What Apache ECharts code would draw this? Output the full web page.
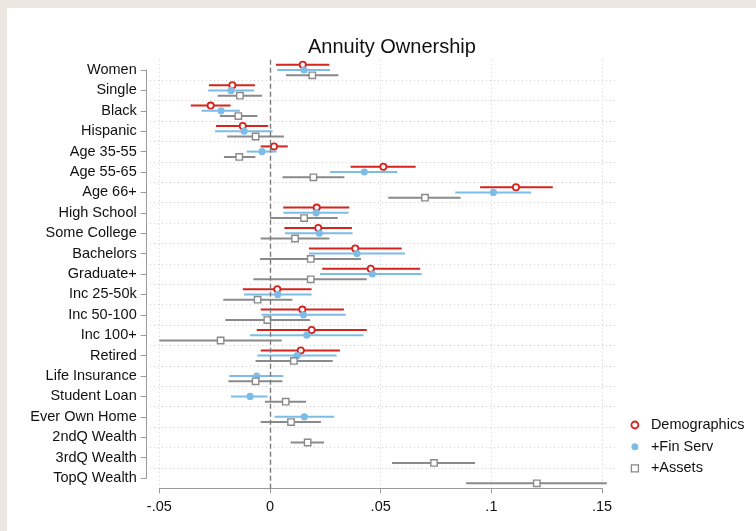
<!DOCTYPE html>
<html>
<head>
<meta charset="utf-8">
<script src="https://cdn.jsdelivr.net/npm/echarts@6/dist/echarts.min.js"></script>
<style>
html,body{margin:0;padding:0;background:#ece7e0;}
#paper{position:absolute;left:7px;top:8px;width:749px;height:523px;background:#fff;}
#c{position:absolute;left:0;top:0;width:756px;height:531px;}
</style>
</head>
<body>
<div id="paper"></div>
<div id="c"></div>
<script>
const categories = ['Women','Single','Black','Hispanic','Age 35-55','Age 55-65','Age 66+','High School','Some College','Bachelors','Graduate+','Inc 25-50k','Inc 50-100','Inc 100+','Retired','Life Insurance','Student Loan','Ever Own Home','2ndQ Wealth','3rdQ Wealth','TopQ Wealth'];
const xTickLabels = ['-.05','0','.05','.1','.15'];
const seriesNames = ['Demographics','+Fin Serv','+Assets'];

// Demographics
const demoEst = [0.0148,-0.0170,-0.0268,-0.0123,0.0018,0.0512,0.1111,0.0211,0.0218,0.0385,0.0455,0.0033,0.0146,0.0188,0.0139,null,null,null,null,null,null];
const demoLo  = [0.0027,-0.0276,-0.0358,-0.0244,-0.0042,0.0364,0.0949,0.0060,0.0065,0.0176,0.0236,-0.0123,-0.0042,-0.0060,-0.0042,null,null,null,null,null,null];
const demoHi  = [0.0268,-0.0068,-0.0178,-0.0008,0.0080,0.0658,0.1277,0.0358,0.0370,0.0595,0.0678,0.0188,0.0334,0.0437,0.0316,null,null,null,null,null,null];
// +Fin Serv
const finEst = [0.0154,-0.0176,-0.0221,-0.0117,-0.0036,0.0426,0.1009,0.0208,0.0223,0.0393,0.0462,0.0035,0.0151,0.0166,0.0123,-0.0060,-0.0090,0.0155,null,null,null];
const finLo  = [0.0033,-0.0279,-0.0309,-0.0248,-0.0105,0.0271,0.0837,0.0060,0.0068,0.0176,0.0226,-0.0117,-0.0038,-0.0090,-0.0057,-0.0184,-0.0176,0.0020,null,null,null];
const finHi  = [0.0271,-0.0072,-0.0136,0.0012,0.0030,0.0575,0.1179,0.0355,0.0373,0.0610,0.0685,0.0188,0.0342,0.0422,0.0301,0.0060,-0.0011,0.0290,null,null,null];
// +Assets
const assetEst = [0.0191,-0.0136,-0.0143,-0.0065,-0.0139,0.0196,0.0700,0.0154,0.0113,0.0184,0.0184,-0.0056,-0.0012,-0.0223,0.0108,-0.0065,0.0071,0.0095,0.0170,0.0741,0.1205];
const assetLo  = [0.0072,-0.0236,-0.0226,-0.0193,-0.0208,0.0056,0.0534,0.0000,-0.0042,-0.0045,-0.0075,-0.0211,-0.0202,-0.0500,-0.0065,-0.0188,-0.0023,-0.0042,0.0093,0.0551,0.0885];
const assetHi  = [0.0309,-0.0036,-0.0057,0.0063,-0.0066,0.0336,0.0861,0.0306,0.0268,0.0411,0.0437,0.0101,0.0181,0.0053,0.0283,0.0056,0.0163,0.0230,0.0244,0.0926,0.1521];

const RED = '#d5231d', BLUE = '#7dbce6', GRAY = '#8a8a8a';
const FONT = "'Liberation Sans', Arial, Helvetica, sans-serif";

function build(est, lo, hi) {
  const out = [];
  categories.forEach((c, i) => {
    if (est[i] !== null) out.push([i, est[i], lo[i], hi[i]]);
  });
  return out;
}

function makeRender(offset, color, marker) {
  return function (params, api) {
    const i = api.value(0);
    const c = api.coord([api.value(1), i]);
    const a = api.coord([api.value(2), i]);
    const b = api.coord([api.value(3), i]);
    const y = c[1] + offset;
    const children = [{
      type: 'line',
      shape: {x1: a[0], y1: y, x2: b[0], y2: y},
      style: {stroke: color, lineWidth: 2}
    }];
    if (marker === 'ocircle') {
      children.push({type: 'circle', shape: {cx: c[0], cy: y, r: 3.1}, style: {fill: '#fff', stroke: color, lineWidth: 1.8}});
    } else if (marker === 'circle') {
      children.push({type: 'circle', shape: {cx: c[0], cy: y, r: 3.6}, style: {fill: color}});
    } else {
      children.push({type: 'rect', shape: {x: c[0] - 3.2, y: y - 3.2, width: 6.4, height: 6.4}, style: {fill: '#fff', stroke: color, lineWidth: 1.4}});
    }
    return {type: 'group', children: children};
  };
}

const chart = echarts.init(document.getElementById('c'), null, {renderer: 'canvas'});

const option = {
  backgroundColor: 'transparent',
  animation: false,
  title: {
    text: 'Annuity Ownership',
    left: 308, top: 37,
    padding: 0,
    textStyle: {fontFamily: FONT, fontSize: 20, fontWeight: 'normal', color: '#111'}
  },
  legend: {
    orient: 'vertical',
    left: 630.5, top: 417,
    padding: 0,
    itemWidth: 7, itemHeight: 7,
    itemGap: 5.7,
    textStyle: {fontFamily: FONT, fontSize: 14.5, color: '#111', lineHeight: 16, padding: [0, 0, 0, 7.5]},
    data: [
      {name: seriesNames[0], icon: 'circle', itemStyle: {color: '#fff', borderColor: RED, borderWidth: 1.8}},
      {name: seriesNames[1], icon: 'circle', itemStyle: {color: BLUE, borderWidth: 0}},
      {name: seriesNames[2], icon: 'rect', itemStyle: {color: '#fff', borderColor: GRAY, borderWidth: 1.3}}
    ]
  },
  grid: [
    {left: 159.3, top: 59.8, width: 442.8, height: 428.4, outerBoundsMode: 'none', containLabel: false},
    {left: 150, top: 59.8, width: 468, height: 428.4, outerBoundsMode: 'none', containLabel: false},
    {left: 146.7, top: 70, width: 10, height: 408, outerBoundsMode: 'none', containLabel: false}
  ],
  xAxis: [
    {
      gridIndex: 0, type: 'value', min: -0.05, max: 0.15, interval: 0.05,
      axisLine: {show: true, lineStyle: {color: '#9a9a9a', width: 1}},
      axisTick: {show: true, length: 5, lineStyle: {color: '#9a9a9a'}},
      axisLabel: {margin: 11, fontFamily: FONT, fontSize: 14.5, color: '#111',
        formatter: function (v, idx) { return xTickLabels[idx]; }},
      splitLine: {show: true, lineStyle: {color: '#cfcfcf', width: 1, type: [1, 3]}}
    },
    {gridIndex: 1, type: 'value', min: 0, max: 1, show: false},
    {gridIndex: 2, type: 'value', min: 0, max: 1, show: false}
  ],
  yAxis: [
    {gridIndex: 0, type: 'category', data: categories, inverse: true, boundaryGap: true, show: false},
    {
      gridIndex: 1, type: 'category', data: categories, inverse: true, boundaryGap: true,
      axisLine: {show: false}, axisTick: {show: false}, axisLabel: {show: false},
      splitLine: {show: true, interval: 0, showMinLine: false, showMaxLine: false,
        lineStyle: {color: '#cfcfcf', width: 1, type: [1, 3]}}
    },
    {
      gridIndex: 2, type: 'category', data: categories, inverse: true, boundaryGap: false,
      axisLine: {show: true, lineStyle: {color: '#9a9a9a', width: 1}},
      axisTick: {show: true, length: 6, interval: 0, lineStyle: {color: '#9a9a9a'}},
      axisLabel: {interval: 0, margin: 10, fontFamily: FONT, fontSize: 14.5, color: '#111'},
      splitLine: {show: false}
    }
  ],
  series: [
    {
      type: 'line', xAxisIndex: 0, yAxisIndex: 0, data: [], silent: true,
      markLine: {
        silent: true, symbol: 'none', label: {show: false},
        lineStyle: {color: '#7a7a7a', width: 1.4, type: [5, 3]},
        data: [{xAxis: 0}]
      }
    },
    {
      name: seriesNames[0], type: 'custom', xAxisIndex: 0, yAxisIndex: 0, clip: false,
      encode: {x: [1, 2, 3], y: 0},
      renderItem: makeRender(-5.2, RED, 'ocircle'),
      data: build(demoEst, demoLo, demoHi)
    },
    {
      name: seriesNames[1], type: 'custom', xAxisIndex: 0, yAxisIndex: 0, clip: false,
      encode: {x: [1, 2, 3], y: 0},
      renderItem: makeRender(0, BLUE, 'circle'),
      data: build(finEst, finLo, finHi)
    },
    {
      name: seriesNames[2], type: 'custom', xAxisIndex: 0, yAxisIndex: 0, clip: false,
      encode: {x: [1, 2, 3], y: 0},
      renderItem: makeRender(5.3, GRAY, 'square'),
      data: build(assetEst, assetLo, assetHi)
    }
  ]
};
chart.setOption(option);
</script>
</body>
</html>
